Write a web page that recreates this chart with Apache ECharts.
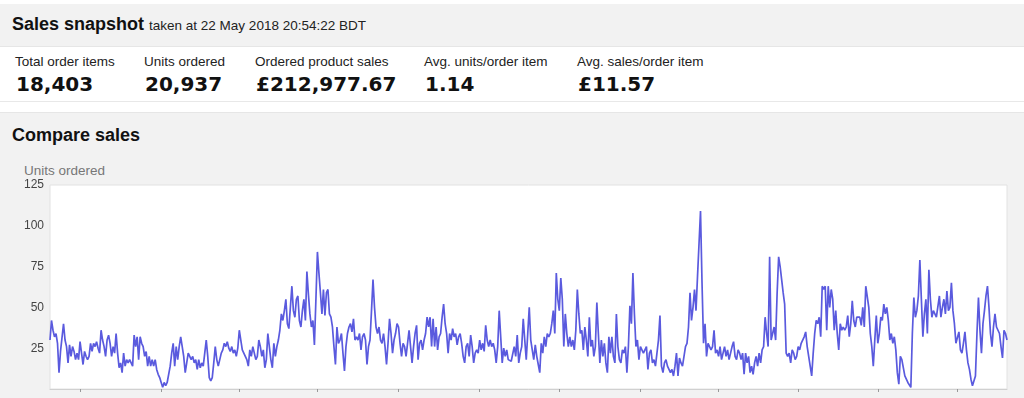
<!DOCTYPE html>
<html>
<head>
<meta charset="utf-8">
<script src="https://cdn.jsdelivr.net/npm/echarts@6/dist/echarts.min.js"></script>
<style>
body{margin:0;width:1024px;height:398px;overflow:hidden;background:#fff;font-family:"Liberation Sans",Arial,sans-serif;color:#111;position:relative}
.bar{position:absolute;left:0;top:4px;width:1024px;height:42px;background:#f2f2f2;border-bottom:1px solid #e6e6e6}
.stats{position:absolute;left:0;top:47px;width:1024px;height:54px;background:#fff;border-bottom:1px solid #e8e8e8}
.sec{position:absolute;left:0;top:112px;width:1024px;height:286px;background:#f2f2f2;border-top:1px solid #e6e6e6}
.t{position:absolute;white-space:nowrap;line-height:1}
.h{font-size:18px;line-height:18px;font-weight:bold;color:#111}
.h span{font-size:13.5px;line-height:13px;font-weight:normal;color:#222}
.lab{font-size:13.5px;color:#222}
.val{font-family:"DejaVu Sans",Verdana,sans-serif;font-size:20px;font-weight:bold;color:#111}
#chart{position:absolute;left:0;top:150px;width:1024px;height:248px}
</style>
</head>
<body>
<div class="bar"></div>
<div class="stats"></div>
<div class="sec"></div>
<div class="t h" style="left:12px;top:15px">Sales snapshot <span>taken at 22 May 2018 20:54:22 BDT</span></div>
<div class="t h" style="left:12px;top:126px">Compare sales</div>
<div class="t lab" style="left:24px;top:164px;color:#777">Units ordered</div>
<div id="metrics"></div>
<div id="chart"></div>
<script>
// snapshot figures
var metricNames = ['Total order items', 'Units ordered', 'Ordered product sales', 'Avg. units/order item', 'Avg. sales/order item'];
var metricValues = ['18,403', '20,937', '£212,977.67', '1.14', '£11.57'];
var metricLeft = [15, 144, 255, 424, 577];

// daily units ordered
var units = [
  30,42,36,32,34,28,10,23,22,40,30,26,
  16,27,20,26,23,18,22,18,29,22,15,
  23,20,18,20,28,23,28,26,29,25,22,
  36,30,26,20,30,33,28,20,26,22,34,
  22,13,16,10,22,14,18,16,18,17,14,
  33,26,32,18,32,28,26,20,23,14,20,
  14,18,14,18,12,9,7,4,1,4,2,
  4,5,14,22,28,14,26,18,26,32,26,20,
  10,16,22,23,18,20,16,18,12,18,
  13,16,14,22,30,20,7,5,7,16,26,
  18,14,18,22,24,28,26,29,25,23,26,
  22,24,
  20,25,36,30,24,22,20,18,14,24,20,
  26,27,18,20,30,26,20,24,13,18,
  34,26,18,13,28,20,26,30,36,46,42,
  48,55,40,37,36,63,48,44,55,57,
  42,38,48,55,42,72,58,46,38,42,27,
  55,84,71,59,46,61,45,59,61,46,
  44,38,26,15,38,28,30,34,22,11,26,
  34,38,40,35,43,30,32,30,34,24,
  32,34,30,15,26,30,48,67,50,38,34,
  38,30,28,34,26,15,28,43,34,22,
  30,34,40,38,28,20,28,26,20,28,36,
  26,16,26,34,39,18,28,30,24,30,
  34,
  44,38,44,26,43,26,38,24,32,34,
  44,52,40,34,22,34,30,37,32,34,27,
  32,34,28,20,16,26,28,20,33,26,16,
  22,24,22,30,24,28,23,39,30,26,30,
  26,28,24,16,26,48,32,16,25,20,
  24,18,17,17,17,26,20,33,16,22,
  26,43,30,18,34,50,30,24,18,27,20,
  15,10,28,22,32,26,34,32,34,40,48,
  34,71,55,48,68,55,26,46,34,26,
  32,26,30,24,36,61,46,34,36,
  24,38,30,20,44,26,30,20,26,53,
  34,16,30,20,28,16,10,32,22,
  32,20,16,46,26,18,16,
  24,22,26,10,26,51,40,71,46,26,
  30,18,26,24,22,23,26,12,22,
  24,16,18,14,22,30,45,14,10,
  16,18,14,12,10,12,8,14,22,
  8,19,16,14,20,26,28,38,59,42,
  50,61,48,69,89,109,65,28,40,20,
  28,26,24,26,36,22,24,20,26,18,
  22,26,20,24,18,22,26,29,20,18,
  24,22,18,22,9,22,16,20,10,14,
  9,16,20,14,22,16,24,26,44,34,
  26,81,30,34,38,30,59,81,75,67,
  59,52,22,20,22,16,24,22,18,20,
  26,24,28,28,32,35,26,
  20,14,8,22,34,42,40,44,32,63,
  61,63,36,63,50,61,55,36,48,34,
  24,40,36,38,36,38,45,32,40,54,
  42,38,44,43,44,39,50,38,63,64,
  50,34,26,14,30,45,28,34,44,42,
  52,46,50,42,30,34,28,32,24,10,
  3,20,18,18,8,8,4,3,1,34,
  56,44,48,57,79,55,32,46,55,34,
  73,55,44,48,46,44,45,57,44,50,
  55,46,60,48,50,65,48,40,28,28,
  35,24,22,28,35,24,16,12,6,2,
  3,8,34,56,36,22,40,48,57,63,
  50,34,26,38,46,38,36,34,26,19,
  36,34,30
];
// day index of each month tick on the x axis
var monthTicks = [20, 74, 126, 178, 232, 286, 339, 393, 445, 498, 551, 604];
var yTicks = [0, 25, 50, 75, 100, 125];

var days = units.map(function (v, i) { return i; });

var html = '';
for (var m = 0; m < metricNames.length; m++) {
  html += '<div class="t lab" style="left:' + metricLeft[m] + 'px;top:55px">' + metricNames[m] + '</div>';
  html += '<div class="t val" style="left:' + (metricLeft[m] + 1) + 'px;top:74px">' + metricValues[m] + '</div>';
}
document.getElementById('metrics').innerHTML = html;

var myChart = echarts.init(document.getElementById('chart'), null, {renderer: 'canvas'});
myChart.setOption({
  animation: false,
  grid: {
    left: 50, right: 17, top: 35, bottom: 9,
    show: true, backgroundColor: '#fff', borderColor: '#e2e2e2', borderWidth: 1
  },
  xAxis: {
    type: 'category',
    data: days,
    boundaryGap: false,
    axisLine: {lineStyle: {color: '#d0d0d0'}},
    axisTick: {
      length: 3,
      lineStyle: {color: '#999'},
      interval: function (i) { return monthTicks.indexOf(i) >= 0; }
    },
    axisLabel: {show: false},
    splitLine: {show: false}
  },
  yAxis: {
    type: 'value',
    min: yTicks[0],
    max: yTicks[yTicks.length - 1],
    interval: 25,
    axisLine: {show: false},
    axisTick: {show: false},
    splitLine: {show: false},
    axisLabel: {
      showMinLabel: false,
      margin: 6,
      color: '#444',
      fontSize: 12,
      fontFamily: 'Liberation Sans, Arial, sans-serif'
    }
  },
  series: [{
    type: 'line',
    data: units,
    symbol: 'none',
    lineStyle: {color: '#5a5ade', width: 1.7},
    itemStyle: {color: '#5a5ade'}
  }]
});
</script>
</body>
</html>
